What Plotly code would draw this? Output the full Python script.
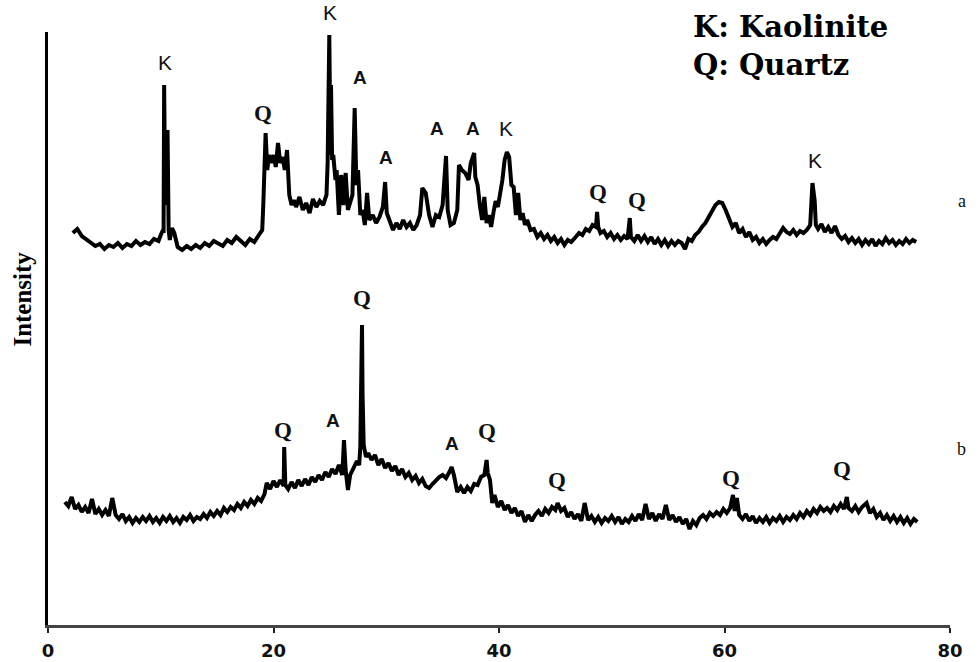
import plotly.graph_objects as go

# ---- Pattern (a): 2-theta (deg) and intensity (arb. units) ----
a_theta = [2.2, 2.6, 3.0, 3.4, 3.8, 4.2, 4.6, 5.0, 5.4, 5.8, 6.2, 6.6, 7.0, 7.4, 7.8, 8.2, 8.6, 9.0, 9.4, 9.8, 10.0,
           10.2, 10.25, 10.3, 10.4, 10.45, 10.55, 10.6, 10.7, 10.8,
           11.0, 11.2, 11.5, 11.9, 12.3, 12.7, 13.1, 13.5, 13.9, 14.3, 14.7, 15.1, 15.5, 15.9, 16.3, 16.7, 17.1, 17.5, 17.9, 18.3, 18.7, 19.0,
           19.1, 19.3, 19.45, 19.6, 19.8, 20.0, 20.2, 20.4, 20.6, 20.8, 21.0, 21.2, 21.4, 21.6,
           21.8, 22.0, 22.3, 22.6, 22.9, 23.2, 23.5, 23.8, 24.1, 24.4, 24.7,
           24.8, 24.95, 25.05, 25.1, 25.2, 25.3, 25.5, 25.6, 25.8, 26.0, 26.2, 26.4, 26.6,
           27.0, 27.2, 27.35, 27.5, 27.7, 27.9, 28.1, 28.3, 28.5, 28.8, 29.1, 29.4, 29.7,
           29.9, 30.05, 30.3, 30.6, 30.9, 31.2, 31.5, 31.8, 32.1, 32.4, 32.7,
           33.0, 33.2, 33.5, 33.8, 34.1, 34.4, 34.7, 35.0, 35.3, 35.45, 35.7, 36.0, 36.3,
           36.45, 36.7, 37.0, 37.3, 37.5, 37.8, 37.9,
           38.1, 38.3, 38.5, 38.7, 38.9, 39.1, 39.3, 39.5, 39.7, 39.9,
           40.1, 40.3, 40.5, 40.7, 40.9, 41.1, 41.3, 41.5, 41.7, 41.9, 42.1, 42.3, 42.5, 42.8,
           43.1, 43.4, 43.7, 44.0, 44.3, 44.6, 44.9, 45.2, 45.5, 45.8, 46.1, 46.4,
           46.8, 47.1, 47.4, 47.7, 48.0, 48.3, 48.6, 48.7, 48.8, 49.0,
           49.3, 49.6, 49.9, 50.2, 50.5, 50.8, 51.1, 51.4, 51.6, 51.7, 52.0,
           52.3, 52.6, 52.9, 53.2, 53.5, 53.8, 54.1, 54.4, 54.7, 55.0, 55.3, 55.6, 55.9, 56.2, 56.5, 56.8,
           57.1, 57.4, 57.7, 58.0, 58.3, 58.6, 58.9, 59.2, 59.5, 59.8, 60.1, 60.4, 60.7,
           61.0, 61.3, 61.6, 61.9, 62.2, 62.5, 62.8, 63.1, 63.4, 63.7, 64.0, 64.3, 64.6, 64.9, 65.2, 65.5, 65.8, 66.1, 66.4, 66.7, 67.0, 67.3, 67.6,
           67.8, 67.9, 68.0, 68.1, 68.3, 68.6, 68.9, 69.2, 69.5, 69.8, 70.1, 70.4, 70.7, 71.0, 71.3, 71.6, 71.9, 72.2, 72.5, 72.8,
           73.1, 73.4, 73.7, 74.0, 74.3, 74.6, 74.9, 75.2, 75.5, 75.8, 76.1, 76.4, 76.7, 77.0]
a_int = [392, 396, 389, 386, 383, 379, 381, 376, 380, 378, 382, 377, 381, 379, 384, 380, 383, 381, 386, 384, 390,
         395, 392, 540, 420, 495, 470, 495, 395, 385,
         397, 392, 378, 375, 379, 376, 380, 377, 382, 379, 384, 381, 379, 385, 382, 388, 384, 380, 386, 383, 390, 395,
         422, 492, 455, 470, 462, 470, 458, 482, 462, 468, 455, 475, 430, 420,
         425, 418, 428, 415, 422, 412, 426, 418, 424, 420, 430,
         462, 590, 470, 540, 465, 470, 445, 455, 410, 450, 420, 452, 415,
         430, 517, 440, 455, 410, 415, 400, 432, 405, 410, 402, 408, 418,
         443, 412, 405, 395, 402, 396, 405, 398, 402, 395, 400,
         410, 437, 432, 410, 398, 410, 408, 420, 469, 415, 400, 402, 415,
         460, 455, 452, 445, 462, 472, 448,
         440, 420, 405, 428, 402, 410, 398, 412, 424, 418,
         430, 445, 465, 473, 468, 440, 438, 410, 432, 405, 412, 400, 405, 395,
         396, 388, 392, 386, 390, 384, 388, 382, 386, 380, 385, 383,
         388, 392, 390, 396, 394, 400, 398, 413, 398, 392,
         394, 388, 392, 386, 390, 385, 389, 386, 407, 388, 384,
         390, 384, 389, 383, 388, 381, 386, 380, 385, 379, 384, 380, 384, 382, 376, 386,
         384, 390, 393, 398, 402, 408, 414, 420, 423, 422, 415, 406, 398,
         402, 392, 396, 388, 393, 385, 388, 382, 386, 381, 385, 388, 386, 392, 397, 393, 391, 395, 390, 394, 392, 395, 400,
         442, 430, 424, 400, 396, 401, 393, 398, 392, 399, 390, 386, 389, 383, 387, 382, 386, 380, 385, 381,
         386, 379, 384, 381, 387, 382, 385, 380, 384, 381, 386, 382, 385, 383]

# ---- Pattern (b) ----
b_theta = [1.5, 1.8, 2.1, 2.4, 2.7, 3.0, 3.3, 3.6, 3.9, 4.2, 4.5, 4.8, 5.1, 5.4, 5.7, 6.0, 6.3, 6.6, 6.9, 7.2, 7.5, 7.8,
           8.1, 8.4, 8.7, 9.0, 9.3, 9.6, 9.9, 10.2, 10.5, 10.8, 11.1, 11.4, 11.7, 12.0, 12.3, 12.6, 12.9, 13.2, 13.5,
           13.8, 14.1, 14.4, 14.7, 15.0, 15.3, 15.6, 15.9, 16.2, 16.5, 16.8, 17.1, 17.4, 17.7, 18.0, 18.3, 18.6, 18.9,
           19.2, 19.4, 19.7, 20.0, 20.3, 20.6, 20.9, 20.95, 21.05, 21.3, 21.6, 21.9, 22.2, 22.5, 22.8, 23.1, 23.4,
           23.7, 24.0, 24.3, 24.6, 24.9, 25.2, 25.5, 25.8, 26.1, 26.25, 26.4, 26.6, 26.8,
           27.1, 27.4, 27.6, 27.7, 27.8, 27.85, 27.9, 28.0, 28.2,
           28.4, 28.7, 29.0, 29.3, 29.6, 29.9, 30.2, 30.5, 30.8, 31.1, 31.4, 31.7, 32.0, 32.3, 32.6, 32.9, 33.2, 33.5,
           33.8, 34.1, 34.4, 34.7, 35.0, 35.3, 35.6, 35.8, 36.0, 36.3, 36.6, 36.9, 37.2, 37.5, 37.8,
           38.1, 38.4, 38.7, 38.9, 39.0, 39.2, 39.4, 39.6, 39.9, 40.2, 40.5, 40.8, 41.1, 41.4, 41.7, 42.0, 42.3, 42.6, 42.9,
           43.2, 43.5, 43.8, 44.1, 44.4, 44.7, 45.0, 45.2, 45.5, 45.8, 46.1, 46.4,
           46.7, 47.0, 47.3, 47.6, 47.9, 48.2, 48.5, 48.8, 49.1, 49.4, 49.7, 50.0, 50.3, 50.6, 50.9, 51.2, 51.5, 51.8,
           52.1, 52.4, 52.7, 53.0, 53.3, 53.6, 53.9, 54.2, 54.5, 54.8, 55.1, 55.4, 55.7, 56.0, 56.3, 56.6, 56.9, 57.2,
           57.5, 57.8, 58.1, 58.4, 58.7, 59.0, 59.3, 59.6, 59.9, 60.2, 60.5, 60.75, 60.9, 61.1, 61.3, 61.6, 61.9, 62.2,
           62.5, 62.8, 63.1, 63.4, 63.7, 64.0, 64.3, 64.6, 64.9, 65.2, 65.5, 65.8, 66.1, 66.4, 66.7, 67.0, 67.3, 67.6,
           67.9, 68.2, 68.5, 68.8, 69.1, 69.4, 69.7, 70.0, 70.3, 70.6, 70.85, 71.0, 71.3, 71.6, 71.9, 72.2, 72.6, 72.9,
           73.2, 73.5, 73.8, 74.1, 74.4, 74.7, 75.0, 75.3, 75.6, 75.9, 76.2, 76.5, 76.8, 77.1]
b_int = [123, 119, 128, 116, 120, 113, 118, 112, 126, 111, 116, 110, 115, 109, 127, 110, 106, 111, 104, 108, 102, 107,
         103, 108, 104, 109, 103, 107, 102, 108, 104, 109, 103, 107, 102, 108, 105, 110, 104, 108, 106,
         111, 107, 113, 109, 114, 110, 117, 113, 118, 115, 121, 117, 123, 119, 125, 121, 127, 124,
         131, 142, 136, 144, 138, 145, 139, 178, 140, 136, 143, 137, 145, 139, 146, 140, 148,
         143, 150, 145, 153, 148, 156, 151, 160, 150, 185, 155, 135, 150,
         158, 164, 160, 178, 262, 300, 230, 180, 168,
         172, 165, 170, 160, 166, 157, 162, 154, 159, 150, 156, 148, 152, 145, 149, 142, 146, 139,
         137, 141, 145, 148, 150, 147, 153, 158, 150, 133, 138, 132, 138, 134, 141,
         140, 148, 150, 165, 152, 145, 122, 130, 118, 124, 115, 120, 112, 117, 109, 114, 103, 110, 104,
         110, 114, 109, 116, 112, 118, 115, 122, 114, 117, 108, 113,
         106, 111, 104, 122, 105, 109, 103, 108, 102, 107, 104, 109, 103, 108, 101, 106, 103, 109,
         104, 111, 105, 121, 106, 112, 104, 111, 106, 120, 105, 110, 103, 108, 101, 106, 96, 104,
         100, 107, 110, 106, 112, 109, 113, 110, 116, 112, 117, 130, 114, 127, 110, 106, 111, 104,
         109, 102, 107, 103, 108, 102, 107, 104, 109, 103, 108, 105, 110, 106, 112, 108, 114, 110,
         116, 112, 118, 114, 117, 113, 119, 115, 121, 116, 128, 117, 114, 119, 113, 118, 122, 112,
         116, 108, 112, 105, 110, 104, 109, 103, 108, 102, 107, 101, 106, 103]

# ---- Phase labels ----
a_lbl_text = ["K", "Q", "K", "A", "A", "A", "A", "K", "Q", "Q", "K"]
a_lbl_x = [10.4, 19.1, 25.0, 27.7, 30.0, 34.5, 37.7, 40.6, 48.8, 52.2, 68.0]
a_lbl_y = [562, 512, 612, 547, 468, 497, 497, 497, 433, 425, 465]
b_lbl_text = ["Q", "A", "Q", "A", "Q", "Q", "Q", "Q"]
b_lbl_x = [20.8, 25.3, 27.85, 35.8, 38.9, 45.1, 60.6, 70.4]
b_lbl_y = [195, 205, 327, 182, 193, 145, 147, 155]

series_names = ["a", "b"]
series_name_x = [81.6, 81.6]
series_name_y = [436, 164]

legend_text = "K: Kaolinite<br>Q: Quartz"
legend_x = 57.0
legend_y = 617

x_ticks = [0, 20, 40, 60, 80]
X_RANGE = [0, 80]
Y_RANGE = [0, 593]


def px(v):
    return (v - X_RANGE[0]) / (X_RANGE[1] - X_RANGE[0])


def py(v):
    return (v - Y_RANGE[0]) / (Y_RANGE[1] - Y_RANGE[0])


fig = go.Figure()
fig.add_trace(go.Scatter(x=a_theta, y=a_int, mode="lines",
                         line=dict(color="#000000", width=4), showlegend=False))
fig.add_trace(go.Scatter(x=b_theta, y=b_int, mode="lines",
                         line=dict(color="#000000", width=4), showlegend=False))


def lbl_font(t):
    if t == "Q":
        return dict(family="Liberation Serif", size=23, color="#111111", weight="bold")
    if t == "K":
        return dict(family="Liberation Sans", size=21, color="#111111")
    return dict(family="Liberation Sans", size=19, color="#111111", weight="bold")


for t, x, y in list(zip(a_lbl_text, a_lbl_x, a_lbl_y)) + list(zip(b_lbl_text, b_lbl_x, b_lbl_y)):
    fig.add_annotation(x=px(x), y=py(y), xref="paper", yref="paper", text=t, showarrow=False,
                       font=lbl_font(t), xanchor="center", yanchor="middle")

for t, x, y in zip(series_names, series_name_x, series_name_y):
    fig.add_annotation(x=px(x), y=py(y), xref="paper", yref="paper", text=t, showarrow=False,
                       font=dict(family="Liberation Serif", size=18, color="#111111"))

fig.add_annotation(x=px(legend_x), y=py(legend_y), xref="paper", yref="paper", text=legend_text,
                   showarrow=False, xanchor="left", yanchor="top", align="left",
                   font=dict(family="DejaVu Serif", size=29, color="#000000", weight="bold"))

fig.add_annotation(x=-0.028, y=0.55, xref="paper", yref="paper", text="Intensity", showarrow=False,
                   textangle=-90, xanchor="center", yanchor="middle",
                   font=dict(family="Liberation Serif", size=25, color="#000000", weight="bold"))

fig.update_layout(
    width=980, height=662,
    margin=dict(l=48, r=30, t=32, b=37, autoexpand=False),
    paper_bgcolor="white", plot_bgcolor="white",
    xaxis=dict(range=X_RANGE, tickvals=x_ticks, ticktext=[str(v) for v in x_ticks],
               automargin=False,
               showline=True, linecolor="#444444", linewidth=3, mirror=False,
               ticks="outside", ticklen=5, tickwidth=2, tickcolor="#222222",
               ticklabelstandoff=2,
               tickfont=dict(family="DejaVu Sans", size=18, color="#111111", weight="bold"),
               showgrid=False, zeroline=False),
    yaxis=dict(range=Y_RANGE, automargin=False, showline=True, linecolor="#000000", linewidth=3,
               showticklabels=False, ticks="", showgrid=False, zeroline=False),
)

fig.write_html("out.html", config={"displayModeBar": False},
               post_script="document.body.style.margin='0';")
